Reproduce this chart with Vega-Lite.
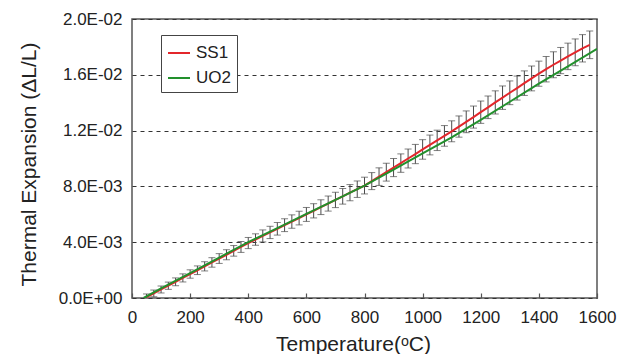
{
  "$schema": "https://vega.github.io/schema/vega-lite/v6.json",
  "width": 465,
  "height": 279,
  "autosize": "none",
  "padding": {"left": 132, "top": 19, "right": 26, "bottom": 56},
  "background": "white",
  "config": {
    "font": "Liberation Sans",
    "view": {"stroke": "#555555", "strokeWidth": 1.5}
  },
  "datasets": {
    "ss1": [
      {"T":50,"v":0.00006,"lo":-0.00017,"hi":0.00029},
      {"T":75,"v":0.00033,"lo":0.00009,"hi":0.00057},
      {"T":100,"v":0.00061,"lo":0.00036,"hi":0.00086},
      {"T":125,"v":0.00088,"lo":0.00062,"hi":0.00114},
      {"T":150,"v":0.00116,"lo":0.00088,"hi":0.00144},
      {"T":175,"v":0.00144,"lo":0.00115,"hi":0.00173},
      {"T":200,"v":0.00172,"lo":0.00142,"hi":0.00202},
      {"T":225,"v":0.00199,"lo":0.00168,"hi":0.00230},
      {"T":250,"v":0.00227,"lo":0.00194,"hi":0.00260},
      {"T":275,"v":0.00255,"lo":0.00221,"hi":0.00289},
      {"T":300,"v":0.00283,"lo":0.00248,"hi":0.00318},
      {"T":325,"v":0.00310,"lo":0.00274,"hi":0.00346},
      {"T":350,"v":0.00338,"lo":0.00300,"hi":0.00376},
      {"T":375,"v":0.00366,"lo":0.00327,"hi":0.00405},
      {"T":400,"v":0.00394,"lo":0.00354,"hi":0.00434},
      {"T":425,"v":0.00419,"lo":0.00378,"hi":0.00460},
      {"T":450,"v":0.00445,"lo":0.00402,"hi":0.00488},
      {"T":475,"v":0.00470,"lo":0.00426,"hi":0.00514},
      {"T":500,"v":0.00496,"lo":0.00451,"hi":0.00541},
      {"T":525,"v":0.00522,"lo":0.00476,"hi":0.00568},
      {"T":550,"v":0.00548,"lo":0.00500,"hi":0.00596},
      {"T":575,"v":0.00573,"lo":0.00524,"hi":0.00622},
      {"T":600,"v":0.00599,"lo":0.00549,"hi":0.00649},
      {"T":625,"v":0.00625,"lo":0.00574,"hi":0.00676},
      {"T":650,"v":0.00651,"lo":0.00598,"hi":0.00704},
      {"T":675,"v":0.00677,"lo":0.00623,"hi":0.00731},
      {"T":700,"v":0.00703,"lo":0.00648,"hi":0.00758},
      {"T":725,"v":0.00729,"lo":0.00673,"hi":0.00785},
      {"T":750,"v":0.00755,"lo":0.00697,"hi":0.00813},
      {"T":775,"v":0.00780,"lo":0.00721,"hi":0.00839},
      {"T":800,"v":0.00806,"lo":0.00746,"hi":0.00866},
      {"T":825,"v":0.00838,"lo":0.00777,"hi":0.00899},
      {"T":850,"v":0.00870,"lo":0.00807,"hi":0.00933},
      {"T":875,"v":0.00902,"lo":0.00838,"hi":0.00966},
      {"T":900,"v":0.00935,"lo":0.00870,"hi":0.01000},
      {"T":925,"v":0.00967,"lo":0.00901,"hi":0.01033},
      {"T":950,"v":0.01000,"lo":0.00932,"hi":0.01068},
      {"T":975,"v":0.01032,"lo":0.00963,"hi":0.01101},
      {"T":1000,"v":0.01065,"lo":0.00995,"hi":0.01135},
      {"T":1025,"v":0.01097,"lo":0.01026,"hi":0.01168},
      {"T":1050,"v":0.01130,"lo":0.01057,"hi":0.01203},
      {"T":1075,"v":0.01162,"lo":0.01088,"hi":0.01236},
      {"T":1100,"v":0.01195,"lo":0.01120,"hi":0.01270},
      {"T":1125,"v":0.01229,"lo":0.01153,"hi":0.01305},
      {"T":1150,"v":0.01263,"lo":0.01185,"hi":0.01341},
      {"T":1175,"v":0.01297,"lo":0.01218,"hi":0.01376},
      {"T":1200,"v":0.01332,"lo":0.01252,"hi":0.01412},
      {"T":1225,"v":0.01367,"lo":0.01286,"hi":0.01448},
      {"T":1250,"v":0.01402,"lo":0.01319,"hi":0.01485},
      {"T":1275,"v":0.01436,"lo":0.01352,"hi":0.01520},
      {"T":1300,"v":0.01471,"lo":0.01386,"hi":0.01556},
      {"T":1325,"v":0.01505,"lo":0.01419,"hi":0.01591},
      {"T":1350,"v":0.01540,"lo":0.01452,"hi":0.01628},
      {"T":1375,"v":0.01574,"lo":0.01485,"hi":0.01663},
      {"T":1400,"v":0.01608,"lo":0.01518,"hi":0.01698},
      {"T":1425,"v":0.01640,"lo":0.01549,"hi":0.01731},
      {"T":1450,"v":0.01672,"lo":0.01579,"hi":0.01765},
      {"T":1475,"v":0.01702,"lo":0.01608,"hi":0.01796},
      {"T":1500,"v":0.01732,"lo":0.01637,"hi":0.01827},
      {"T":1525,"v":0.01761,"lo":0.01665,"hi":0.01857},
      {"T":1550,"v":0.01790,"lo":0.01692,"hi":0.01888},
      {"T":1575,"v":0.01815,"lo":0.01716,"hi":0.01914}
    ],
    "uo2": [
      {"T":40,"v":0.0},
      {"T":100,"v":0.00069},
      {"T":200,"v":0.00179},
      {"T":300,"v":0.00290},
      {"T":400,"v":0.00400},
      {"T":500,"v":0.00501},
      {"T":600,"v":0.00603},
      {"T":700,"v":0.00704},
      {"T":800,"v":0.00806},
      {"T":900,"v":0.00921},
      {"T":1000,"v":0.01037},
      {"T":1100,"v":0.01152},
      {"T":1200,"v":0.01277},
      {"T":1300,"v":0.01407},
      {"T":1400,"v":0.01537},
      {"T":1500,"v":0.01661},
      {"T":1600,"v":0.01786}
    ]
  },
  "encoding": {
    "x": {
      "field": "T",
      "type": "quantitative",
      "title": "Temperature(ᵒC)",
      "scale": {"domain": [0, 1600], "nice": false},
      "axis": {
        "values": [0, 200, 400, 600, 800, 1000, 1200, 1400, 1600],
        "format": "d",
        "labelOverlap": false,
        "labelFlush": false,
        "domain": false,
        "grid": false,
        "tickSize": -5,
        "tickColor": "#555555",
        "tickWidth": 1.2,
        "labelPadding": 16,
        "labelFontSize": 17,
        "labelColor": "#222222",
        "labelFont": "Liberation Sans",
        "titleFont": "Liberation Sans",
        "titleFontSize": 21,
        "titleFontWeight": "normal",
        "titleColor": "#222222",
        "titleX": 221,
        "titleY": 52,
        "titleBaseline": "alphabetic",
        "titleAlign": "center"
      }
    }
  },
  "layer": [
    {
      "data": {"name": "ss1"},
      "mark": {"type": "rule", "color": "#4a4a4a", "strokeWidth": 1, "clip": true},
      "encoding": {
        "y": {
          "field": "lo",
          "type": "quantitative",
          "title": "Thermal Expansion (ΔL/L)",
          "scale": {"domain": [0, 0.02], "nice": false},
          "axis": {
            "values": [0, 0.004, 0.008, 0.012, 0.016, 0.02],
            "labelExpr": "datum.value == 0 ? '0.0E+00' : datum.value < 0.01 ? format(datum.value * 1000, '.1f') + 'E-03' : format(datum.value * 100, '.1f') + 'E-02'",
            "domain": false,
            "ticks": false,
            "grid": true,
            "gridColor": "#333333",
            "gridDash": [4, 4],
            "gridWidth": 1,
            "labelPadding": 10,
            "labelFontSize": 17,
            "labelColor": "#222222",
            "labelFont": "Liberation Sans",
            "titleFont": "Liberation Sans",
            "titleFontSize": 21,
            "titleFontWeight": "normal",
            "titleColor": "#222222",
            "titleX": -97,
            "titleY": 145,
            "titleBaseline": "alphabetic",
            "titleAlign": "center",
            "titleAngle": -90
          }
        },
        "y2": {"field": "hi"}
      }
    },
    {
      "data": {"name": "ss1"},
      "mark": {"type": "tick", "orient": "horizontal", "color": "#4a4a4a", "size": 7, "thickness": 1, "clip": true},
      "encoding": {
        "y": {"field": "lo", "type": "quantitative", "title": "Thermal Expansion (ΔL/L)"}
      }
    },
    {
      "data": {"name": "ss1"},
      "mark": {"type": "tick", "orient": "horizontal", "color": "#4a4a4a", "size": 7, "thickness": 1, "clip": true},
      "encoding": {
        "y": {"field": "hi", "type": "quantitative", "title": "Thermal Expansion (ΔL/L)"}
      }
    },
    {
      "data": {"name": "ss1"},
      "mark": {"type": "line", "strokeWidth": 2, "clip": true},
      "encoding": {
        "y": {"field": "v", "type": "quantitative", "title": "Thermal Expansion (ΔL/L)"},
        "color": {
          "datum": "SS1",
          "type": "nominal",
          "scale": {"domain": ["SS1", "UO2"], "range": ["#e3262b", "#22902c"]},
          "legend": {
            "title": null,
            "orient": "none",
            "legendX": 29,
            "legendY": 16,
            "symbolType": "stroke",
            "symbolSize": 484,
            "symbolStrokeWidth": 2,
            "labelFontSize": 17,
            "labelFont": "Liberation Sans",
            "labelColor": "#222222",
            "labelOffset": 5,
            "rowPadding": 5,
            "padding": 6,
            "strokeColor": "#444444",
            "fillColor": "white"
          }
        }
      }
    },
    {
      "data": {"name": "uo2"},
      "mark": {"type": "line", "strokeWidth": 2, "clip": true},
      "encoding": {
        "y": {"field": "v", "type": "quantitative", "title": "Thermal Expansion (ΔL/L)"},
        "color": {"datum": "UO2", "type": "nominal"}
      }
    }
  ]
}
